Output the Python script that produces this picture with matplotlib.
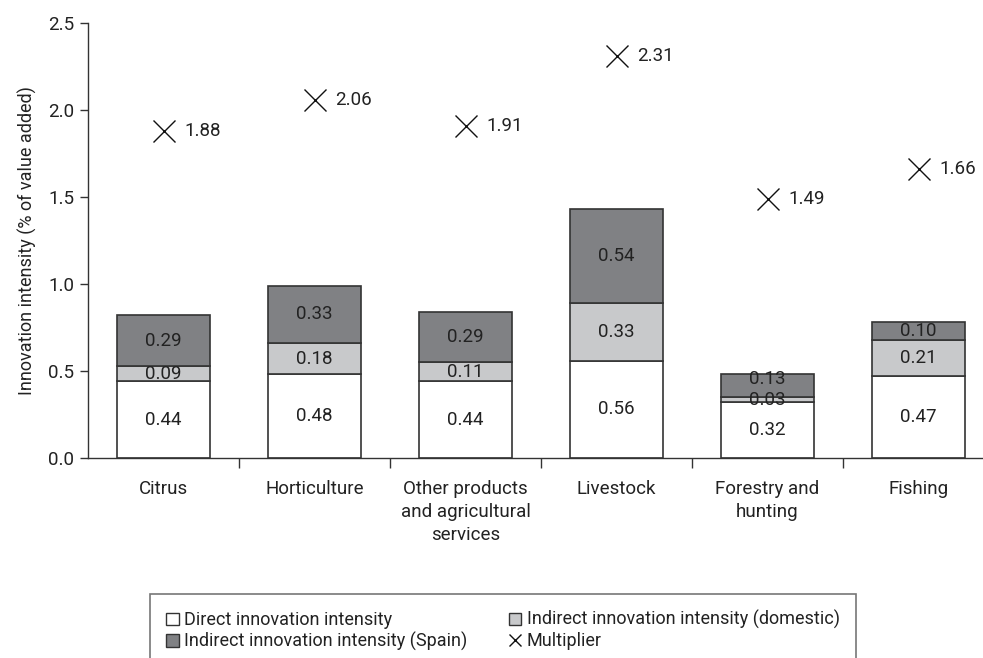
import matplotlib
matplotlib.use("Agg")
import matplotlib.pyplot as plt
from matplotlib.patches import Patch
from matplotlib.lines import Line2D
from matplotlib import font_manager as fm
import numpy as np

names = {f.name for f in fm.fontManager.ttflist}
fam = ["Liberation Sans Narrow", "DejaVu Sans"] if "Liberation Sans Narrow" in names else ["Roboto", "DejaVu Sans"]
plt.rcParams["font.family"] = fam

categories = ["Citrus", "Horticulture", "Other products\nand agricultural\nservices",
              "Livestock", "Forestry and\nhunting", "Fishing"]
direct = [0.44, 0.48, 0.44, 0.56, 0.32, 0.47]
indirect_domestic = [0.09, 0.18, 0.11, 0.33, 0.03, 0.21]
indirect_spain = [0.29, 0.33, 0.29, 0.54, 0.13, 0.10]
multiplier = [1.88, 2.06, 1.91, 2.31, 1.49, 1.66]
yticks = [0.0, 0.5, 1.0, 1.5, 2.0, 2.5]

c_direct = "#ffffff"
c_dom = "#c8c9cb"
c_spain = "#808184"
edge = "#333333"
txt = "#222222"

fig = plt.figure(figsize=(9.83, 6.58), dpi=100)
ax = fig.add_axes([88/983, 1-458/658, (994-88)/983, (458-23)/658])

x = np.arange(len(categories))
w = 0.62
d = np.array(direct); m = np.array(indirect_domestic); s = np.array(indirect_spain)
ax.bar(x, d, w, color=c_direct, edgecolor=edge, linewidth=1.2, zorder=2)
ax.bar(x, m, w, bottom=d, color=c_dom, edgecolor=edge, linewidth=1.2, zorder=2)
ax.bar(x, s, w, bottom=d+m, color=c_spain, edgecolor=edge, linewidth=1.2, zorder=2)

fs = 13.5
for i in range(len(x)):
    ax.text(x[i], d[i]/2, f"{d[i]:.2f}", ha="center", va="center", fontsize=fs, color=txt, zorder=3)
    ax.text(x[i], d[i]+m[i]/2, f"{m[i]:.2f}", ha="center", va="center", fontsize=fs, color=txt, zorder=3)
    ytop = d[i]+m[i]+s[i]/2
    if s[i] < 0.14 and m[i] < 0.05:
        ytop = d[i]+m[i]+s[i]*0.8
    ax.text(x[i], ytop, f"{s[i]:.2f}", ha="center", va="center", fontsize=fs, color=txt, zorder=3)

ax.plot(x, multiplier, linestyle="none", marker="x", markersize=16, markeredgewidth=1.0,
        color="#111111", zorder=3)
for i in range(len(x)):
    ax.annotate(f"{multiplier[i]:.2f}", (x[i], multiplier[i]), xytext=(15, 0),
                textcoords="offset points", ha="left", va="center", fontsize=fs, color=txt)

ax.set_xlim(-0.5, len(categories)-0.5)
ax.set_ylim(0, 2.5)
ax.set_yticks(yticks)
ax.set_yticklabels([f"{v:.1f}" for v in yticks], fontsize=fs, color=txt)
ax.set_xticks(x)
ax.set_xticklabels(categories, fontsize=fs, color=txt, linespacing=1.35)
ax.tick_params(axis="x", length=0, pad=16)
ax.set_xticks(np.arange(0.5, len(categories)-0.5, 1), minor=True)
ax.tick_params(axis="x", which="minor", length=7, width=1, color=edge, direction="out")
ax.tick_params(axis="y", length=6, width=1, color=edge, direction="out", pad=4)
ax.set_ylabel("Innovation intensity (% of value added)", fontsize=13, color=txt, labelpad=8)
for sp in ["top", "right"]:
    ax.spines[sp].set_visible(False)
for sp in ["left", "bottom"]:
    ax.spines[sp].set_color(edge)
    ax.spines[sp].set_linewidth(1.0)

handles = [Patch(facecolor=c_direct, edgecolor=edge, linewidth=1.0),
           Patch(facecolor=c_spain, edgecolor=edge, linewidth=1.0),
           Patch(facecolor=c_dom, edgecolor=edge, linewidth=1.0),
           Line2D([], [], linestyle="none", marker="x", markersize=8, markeredgewidth=1.0, color="#111111")]
labels = ["Direct innovation intensity", "Indirect innovation intensity (Spain)",
          "Indirect innovation intensity (domestic)", "Multiplier"]
leg = fig.legend(handles, labels, ncol=2, loc="upper left",
                 bbox_to_anchor=(150/983, 0, (856-150)/983, 1-594/658), mode="expand",
                 fontsize=13, frameon=True, fancybox=False, handlelength=0.7, handleheight=0.7,
                 handletextpad=0.3, labelspacing=0.15, columnspacing=1.0, borderpad=0.9,
                 borderaxespad=0)
leg.get_frame().set_edgecolor("#555555")
leg.get_frame().set_linewidth(1.2)
for t in leg.get_texts():
    t.set_color(txt)

fig.savefig("out.png", dpi=100)
